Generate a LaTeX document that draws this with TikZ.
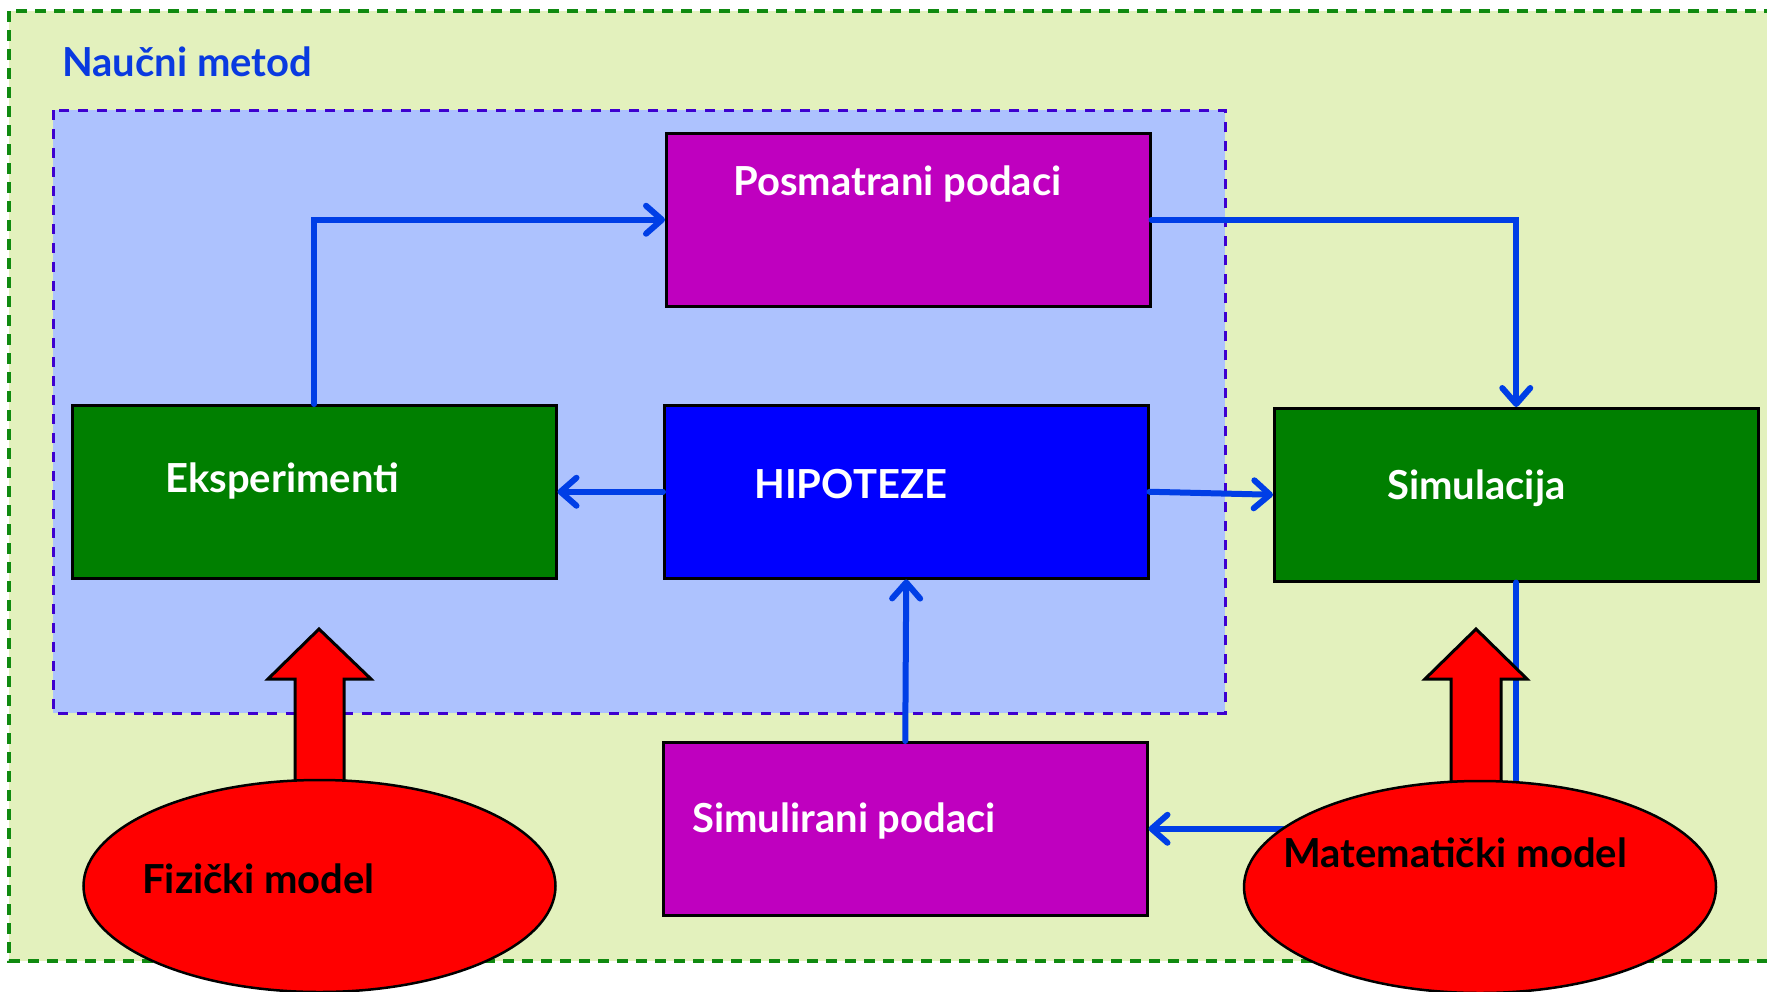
\documentclass[tikz,border=0pt]{standalone}
\usepackage{fontspec}
\setmainfont{Lato}
\usetikzlibrary{arrows.meta,shapes.geometric}
\definecolor{outerbg}{HTML}{E3F1BD}
\definecolor{outerln}{HTML}{108A10}
\definecolor{innerbg}{HTML}{ADC2FE}
\definecolor{innerln}{HTML}{3E00D0}
\definecolor{boxgreen}{HTML}{007F00}
\definecolor{boxmag}{HTML}{BF00BF}
\definecolor{boxblue}{HTML}{0000FF}
\definecolor{connblue}{HTML}{003EE6}
\definecolor{titleblue}{HTML}{0A3AE0}
\begin{document}
\begin{tikzpicture}[x=1pt,y=-1pt,
  box/.style={draw=black, line width=2.5pt, anchor=north west, inner sep=0pt, minimum width=484pt, minimum height=173pt},
  conn/.style={draw=connblue, line width=6pt, line cap=round, line join=miter,
    -{Straight Barb[length=16pt, width=28pt, line cap=round, line join=round]}},
  lbl/.style={anchor=base west, inner sep=0pt, font=\fontsize{40}{48}\selectfont\bfseries},
  blob/.style={ellipse, draw=black, line width=2.5pt, fill=red, inner sep=0pt, minimum width=472pt, minimum height=212pt},
  bigarrow/.style={draw=black, line width=3pt, fill=red, line join=miter}
]
\useasboundingbox (0,0) rectangle (1767,991);
\clip (0,0) rectangle (1767,991);
\fill[white] (0,0) rectangle (1767,991);
% frames
\draw[fill=outerbg, draw=outerln, line width=3.5pt, dash pattern=on 11pt off 8pt] (9,11) rectangle (1785,961);
\draw[fill=innerbg, draw=innerln, line width=3pt, dash pattern=on 10pt off 9pt] (53,110) rectangle (1225,713);
\node[lbl, text=titleblue] (title) at (62,76) {Naučni metod};
% boxes
\node[box, fill=boxmag] (pos) at (665,132) {};
\node[box, fill=boxgreen] (eks) at (71,404) {};
\node[box, fill=boxblue] (hip) at (663,404) {};
\node[box, fill=boxgreen] (sim) at (1273,407) {};
\node[box, fill=boxmag] (simd) at (662,741) {};
% connectors
\draw[conn] (eks.north) |- (pos.west);
\draw[conn] (pos.east) -| (sim.north);
\draw[conn] (hip.west) -- (eks.east);
\draw[conn] (hip.east) -- (sim.west);
\draw[conn] (simd.north) -- (hip.south);
\draw[conn] (sim.south) |- (simd.east);
% red block arrows
\draw[bigarrow] (319,629) -- (371,679) -- (344,679) -- (344,782) -- (295,782) -- (295,679) -- (268,679) -- cycle;
\draw[bigarrow] (1476,629) -- (1527,679) -- (1501,679) -- (1501,782) -- (1451,782) -- (1451,679) -- (1425,679) -- cycle;
% ellipses
\node[blob] (fiz) at (319.5,886) {};
\node[blob] (mat) at (1480,887) {};
% labels
\node[lbl, text=white] (tpos) at (733,195) {Posmatrani podaci};
\node[lbl, text=white] (teks) at (165,492) {Eksperimenti};
\node[lbl, text=white] (thip) at (754,498) {HIPOTEZE};
\node[lbl, text=white] (tsim) at (1387,499) {Simulacija};
\node[lbl, text=white] (tsimd) at (692,832) {Simulirani podaci};
\node[lbl, text=black] (tfiz) at (142,893) {Fizički model};
\node[lbl, text=black] (tmat) at (1283,867) {Matematički model};
\end{tikzpicture}
\end{document}
